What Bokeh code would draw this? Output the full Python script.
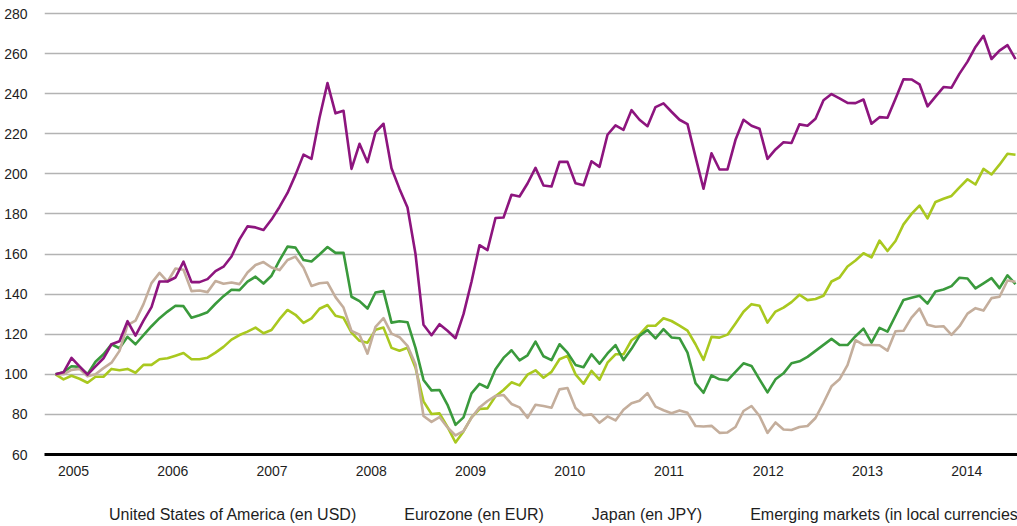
from bokeh.plotting import figure
from bokeh.layouts import column
from bokeh.models import Range1d, FixedTicker, Legend, LegendItem
from bokeh.embed import file_html
from bokeh.resources import INLINE

# ---- data (monthly index, base 100) ----
months = list(range(121))

usa = [100, 97.5, 99.3, 97.8, 95.8, 98.8, 98.8, 102.7, 102, 102.7,
       100.8, 104.7, 104.7, 107.5, 108, 109.3, 110.6, 107.5, 107.5, 108.3,
       110.8, 113.7, 117.3, 119.6, 121.3, 123.3, 120.5, 122.1, 127.5, 132.1,
       129.7, 125.7, 127.9, 132.7, 134.6, 129.2, 128.2, 120.8, 116.7, 115.8,
       122.2, 123.3, 113.2, 111.8, 113.3, 103.3, 86.5, 80.2, 80.5, 73.8,
       66, 71.5, 78.5, 82.7, 83, 89, 92.2, 96, 94.5, 99.8,
       102, 98.3, 101.2, 107.5, 109.2, 100, 95.3, 101.7, 97.3, 105.8,
       110, 110, 117, 119.8, 124.2, 124.2, 128, 126.6, 124.3, 121.8,
       115, 107.2, 118.7, 118.3, 119.8, 125.4, 131.2, 135, 134.2, 125.8,
       131.3, 133.3, 136, 139.7, 137, 137.6, 139.2, 146.3, 148.3, 153.8,
       156.8, 160.4, 158.3, 166.7, 161.5, 166.5, 174.8, 180, 184.2, 177.8,
       186, 187.6, 189, 193.3, 197.3, 194.7, 202.5, 199.7, 204.6, 210,
       209.5]

eurozone = [100, 101, 104, 103.7, 100, 106.3, 110, 115, 113, 118.7,
            115, 119.5, 124, 128, 131.3, 134.2, 134, 128.2, 129.5, 131,
            135.2, 139, 142.2, 142, 146.2, 148.7, 145.3, 149.2, 156.8, 163.7,
            163.2, 157, 156.3, 159.8, 163.5, 160.6, 160.6, 138.7, 136.5, 132.8,
            140.8, 141.5, 125.8, 126.5, 126, 113.2, 97.2, 92, 92.2, 84.8,
            74.8, 78.5, 90.5, 95.2, 93.3, 102.5, 108.2, 112, 107, 109.5,
            116.3, 109, 107.1, 115, 110.8, 104.7, 103.5, 110, 105.3, 110.4,
            114.6, 107.1, 112.7, 119.2, 122.1, 117.9, 122.5, 118.4, 118, 110.8,
            95.6, 90.8, 99.5, 97.5, 97, 101.2, 105.5, 104.2, 97.5, 91,
            97.5, 100.5, 105.5, 106.5, 108.7, 111.7, 114.7, 117.7, 114.7, 114.6,
            119, 122.8, 115.8, 123.2, 121.3, 129.2, 137.1, 138.2, 139.2, 135.3,
            141.3, 142.3, 144, 148.2, 147.8, 142.9, 145.4, 148, 143, 149.4,
            145]

japan = [100, 100, 102.2, 102.7, 99, 100, 103.1, 105.8, 111.7, 124.5,
         126.8, 135, 145.5, 150.6, 146.2, 152.8, 152.2, 141.5, 141.8, 141,
         146.5, 145.2, 145.8, 145, 150.8, 154.5, 156, 153.3, 152, 157,
         158.7, 153.2, 144.1, 145.4, 145.8, 138.5, 133.3, 121.7, 119.8, 110.3,
         123.7, 128, 120.3, 118.5, 114.2, 105, 79.2, 76.3, 78.7, 73.5,
         69.5, 71.7, 78.3, 83.5, 86.7, 89.2, 89.7, 85.2, 83.5, 78.3,
         84.8, 84.2, 83.3, 92.5, 93.2, 83.2, 79.6, 80, 75.8, 79,
         77, 82.3, 85.6, 86.8, 90.6, 83.9, 82.1, 80.6, 82, 80.8,
         74.2, 74, 74.3, 70.8, 71, 73.7, 81.7, 84.2, 79.2, 70.8,
         76, 72.5, 72.2, 73.7, 74.2, 78.2, 85.8, 94, 97.5, 104.6,
         117, 114.7, 114.6, 114.5, 111.8, 121.5, 121.7, 128.3, 132.8, 124.7,
         123.7, 124, 119.7, 124, 130.3, 133, 131.8, 138, 138.7, 146.8,
         146.2]

emerging = [100, 101, 108.2, 104, 99.8, 104, 108, 115, 116.5, 126.5,
            119.3, 126.8, 133.5, 146.3, 146.3, 148.3, 156.2, 146, 146, 147.5,
            151.5, 153.7, 158.8, 167.3, 173.8, 173.3, 172, 177.2, 183.5, 190.5,
            199.5, 209.6, 207.5, 228, 245.3, 230.2, 231.5, 202.5, 215, 205.8,
            220.8, 225, 202.8, 192.5, 183.2, 160, 124.7, 119.5, 125, 121.7,
            118, 130, 146.2, 164.4, 162, 178, 178.2, 189.6, 188.7, 195.2,
            203, 194.2, 193.7, 206, 206, 195.3, 194.3, 206.3, 203.5, 219.5,
            224.2, 222, 231.8, 227, 223.8, 233.3, 235.2, 231, 227, 224.8,
            208.5, 192.6, 210.3, 202.2, 202.2, 217, 227, 224, 222.5, 207.5,
            212.2, 215.8, 215.4, 224.7, 224, 227.5, 236.7, 239.8, 237.7, 235.4,
            235.3, 237.1, 225, 228.3, 228, 237.5, 247.2, 247.1, 244.7, 233.7,
            238.5, 243.3, 243, 250, 256, 263.3, 268.9, 257.3, 261.5, 264.2,
            257.2]

year_labels = ["2005", "2006", "2007", "2008", "2009",
               "2010", "2011", "2012", "2013", "2014"]
y_ticks = [60, 80, 100, 120, 140, 160, 180, 200, 220, 240, 260, 280]

series_names = ["United States of America (en USD)", "Eurozone (en EUR)",
                "Japan (en JPY)", "Emerging markets (in local currencies)"]
series_colors = ["#a9c81f", "#3a9a3c", "#c4ae9c", "#8d157e"]

# ---- main chart ----
p = figure(width=1017, height=478,
           x_range=Range1d(-1.375, 120.25), y_range=Range1d(60, 282),
           output_backend="svg", toolbar_location=None,
           min_border_left=44, min_border_right=0, min_border_top=9,
           min_border_bottom=0)
p.outline_line_color = None
p.background_fill_color = "white"
p.border_fill_color = "white"

p.xgrid.grid_line_color = None
p.ygrid.ticker = FixedTicker(ticks=y_ticks)
p.ygrid.grid_line_color = "#b3b3b3"
p.ygrid.grid_line_width = 1.3

p.yaxis.ticker = FixedTicker(ticks=y_ticks)
p.yaxis.axis_line_color = None
p.yaxis.major_tick_line_color = None
p.yaxis.minor_tick_line_color = None
p.yaxis.major_label_standoff = 11
p.yaxis.major_label_text_font = "Liberation Sans"
p.yaxis.major_label_text_font_size = "14px"
p.yaxis.major_label_text_color = "#1e1e1e"

year_pos = [2.25 + 12.406 * k for k in range(len(year_labels))]
p.xaxis.ticker = FixedTicker(ticks=year_pos)
p.xaxis.major_label_overrides = {pos: lab for pos, lab in zip(year_pos, year_labels)}
p.xaxis.axis_line_color = "black"
p.xaxis.axis_line_width = 3
p.xaxis.major_tick_line_color = None
p.xaxis.minor_tick_line_color = None
p.xaxis.major_label_standoff = 5
p.xaxis.major_label_text_font = "Liberation Sans"
p.xaxis.major_label_text_font_size = "14px"
p.xaxis.major_label_text_color = "#1e1e1e"

for vals, col in zip([usa, eurozone, japan, emerging], series_colors):
    p.line(months, vals, line_color=col, line_width=2.6, line_join="round")

# ---- legend strip below the chart ----
lg = figure(width=1017, height=48, x_range=Range1d(0, 1), y_range=Range1d(0, 1),
            output_backend="svg", toolbar_location=None,
            x_axis_location=None, y_axis_location=None,
            min_border_left=0, min_border_right=0, min_border_top=0,
            min_border_bottom=0)
lg.outline_line_color = None
lg.grid.visible = False
lg.background_fill_color = "white"
lg.border_fill_color = "white"

legend_renderers = []
for col in series_colors:
    legend_renderers.append(lg.line([], [], line_color=col, line_width=3))

legend = Legend(items=[LegendItem(label=n, renderers=[r])
                       for n, r in zip(series_names, legend_renderers)],
                orientation="horizontal", location=(50, 2),
                glyph_width=10, glyph_height=16, label_standoff=5, spacing=33,
                label_text_font="Liberation Sans", label_text_font_size="16px",
                label_text_color="#1e1e1e", label_height=16,
                padding=0, margin=0, border_line_color=None,
                background_fill_alpha=0)
lg.add_layout(legend, "center")

layout = column(p, lg, spacing=0)

open("out.html", "w").write(file_html(layout, INLINE))
